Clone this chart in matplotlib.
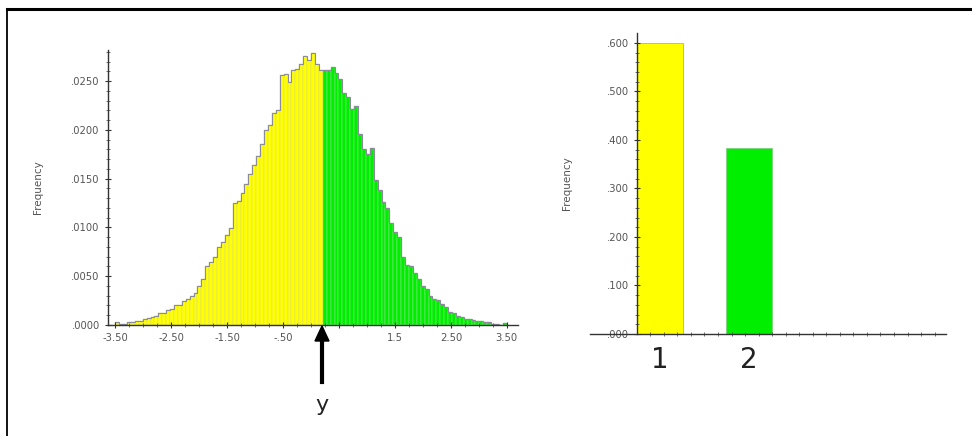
import numpy as np
import matplotlib.pyplot as plt
from matplotlib.lines import Line2D

# Histogram: 100 bins of width 0.07 from -3.50 to 3.50
bin_start = -3.5
bin_width = 0.07
freq = [
    0.0003, 0.0001, 0.0001, 0.0003, 0.0003, 0.0004, 0.0004, 0.0006, 0.0007, 0.0008,
    0.0009, 0.0012, 0.0012, 0.0015, 0.0016, 0.0020, 0.0021, 0.0025, 0.0027, 0.0030,
    0.0033, 0.0040, 0.0047, 0.0060, 0.0065, 0.0070, 0.0080, 0.0085, 0.0092, 0.0099,
    0.0125, 0.0127, 0.0135, 0.0145, 0.0155, 0.0164, 0.0173, 0.0186, 0.0200, 0.0205,
    0.0217, 0.0220, 0.0256, 0.0257, 0.0249, 0.0262, 0.0263, 0.0268, 0.0276, 0.0272,
    0.0279, 0.0268, 0.0262, 0.0261, 0.0262, 0.0265, 0.0258, 0.0252, 0.0238, 0.0234,
    0.0222, 0.0225, 0.0196, 0.0180, 0.0175, 0.0182, 0.0149, 0.0138, 0.0126, 0.0120,
    0.0105, 0.0095, 0.0090, 0.0070, 0.0062, 0.0060, 0.0053, 0.0047, 0.0040, 0.0037,
    0.0030, 0.0027, 0.0026, 0.0022, 0.0018, 0.0013, 0.0012, 0.0009, 0.0008, 0.0006,
    0.0006, 0.0005, 0.0004, 0.0004, 0.0003, 0.0003, 0.0001, 0.0001, 0.0000, 0.0002,
]
split_y = 0.21  # bins left of y are yellow, right are green

hist_xticks = [-3.5, -2.5, -1.5, -0.5, 0.5, 1.5, 2.5, 3.5]
hist_xlabels = ["-3.50", "-2.50", "-1.50", "-.50", "", "1.5", "2.50", "3.50"]
hist_yticks = [0.0, 0.005, 0.010, 0.015, 0.020, 0.025]
hist_ylabels = [".0000", ".0050", ".0100", ".0150", ".0200", ".0250"]

# Bar chart of the two groups
groups = [1, 2]
group_labels = ["1", "2"]
group_freq = [0.600, 0.384]
bar_yticks = [0.0, 0.1, 0.2, 0.3, 0.4, 0.5, 0.6]
bar_ylabels = [".000", ".100", ".200", ".300", ".400", ".500", ".600"]

yellow = "#ffff00"
green = "#00ee00"
tick_col = "#555555"

fig = plt.figure(figsize=(9.72, 4.36), dpi=100)
W, H = 972, 436

def fx(px):
    return px / W

def fy(py):
    return 1 - py / H

# ---------- left: histogram ----------
ax1 = fig.add_axes([fx(108), fy(325), fx(518) - fx(108), fy(50) - fy(325)])
left_edges = bin_start + bin_width * np.arange(len(freq))
colors = [yellow if e < split_y else green for e in left_edges]
edges = ["#d8d880" if e < split_y else "#9ade9a" for e in left_edges]
ax1.bar(left_edges, freq, width=bin_width, align="edge", color=colors,
        edgecolor=edges, linewidth=0.35)
ax1.stairs(freq, np.append(left_edges, left_edges[-1] + bin_width),
           color="#8a8a9a", linewidth=0.8)
ax1.set_xlim(-3.63, 3.7)
ax1.set_ylim(0, 0.0282)
ax1.set_xticks(hist_xticks)
ax1.set_xticklabels(hist_xlabels)
ax1.set_xticks(np.arange(-3.5, 3.6, 0.25), minor=True)
ax1.set_yticks(hist_yticks)
ax1.set_yticklabels(hist_ylabels)
ax1.set_yticks(np.arange(0, 0.0281, 0.001), minor=True)
ax1.set_ylabel("Frequency", fontsize=7.5, color=tick_col, labelpad=20)

# ---------- right: bar chart ----------
ax2 = fig.add_axes([fx(590), fy(334), fx(946) - fx(590), fy(33) - fy(334)])
ax2.bar(groups, group_freq, width=0.517, color=[yellow, green],
        edgecolor=["#b8b860", "#7fd07f"], linewidth=0.6)
ax2.set_xlim(0.213, 4.21)
ax2.set_ylim(0, 0.6206)
ax2.spines["left"].set_position(("data", 0.742))
ax2.set_xticks(groups)
ax2.set_xticklabels(group_labels, fontsize=20, color="#222222")
ax2.set_xticks(np.arange(0.89, 4.2, 0.152), minor=True)
ax2.set_yticks(bar_yticks)
ax2.set_yticklabels(bar_ylabels)
ax2.set_yticks(np.arange(0, 0.62, 0.02), minor=True)
ax2.set_ylabel("Frequency", fontsize=7.5, color=tick_col)
ax2.yaxis.set_label_coords(-0.05, 0.5)

for ax in (ax1, ax2):
    for s in ("top", "right"):
        ax.spines[s].set_visible(False)
    for s in ("left", "bottom"):
        ax.spines[s].set_linewidth(1.0)
        ax.spines[s].set_color("#333333")
    ax.tick_params(which="major", direction="inout", length=5, width=0.8,
                   labelsize=7.2, labelcolor=tick_col, color="#333333")
    ax.tick_params(which="minor", direction="inout", length=3, width=0.6,
                   color="#555555")
ax2.tick_params(axis="x", which="major", length=0, pad=9, labelsize=20,
                labelcolor="#222222")

# arrow marking y under the histogram
fig.patches.append(plt.Polygon([[fx(322), fy(326)], [fx(315), fy(341)],
                                [fx(329), fy(341)]], closed=True,
                               transform=fig.transFigure, color="black"))
fig.add_artist(Line2D([fx(322), fx(322)], [fy(338), fy(382)],
                      transform=fig.transFigure, color="black", linewidth=3))
fig.text(fx(322), fy(405), "y", fontsize=16, ha="center", va="center",
         color="#222222")

# frame lines (top and left)
fig.add_artist(Line2D([fx(7), 1], [fy(9), fy(9)], transform=fig.transFigure,
                      color="black", linewidth=2.2))
fig.add_artist(Line2D([fx(7), fx(7)], [fy(9), 0], transform=fig.transFigure,
                      color="black", linewidth=1.3))

fig.savefig("out.png", dpi=100)
